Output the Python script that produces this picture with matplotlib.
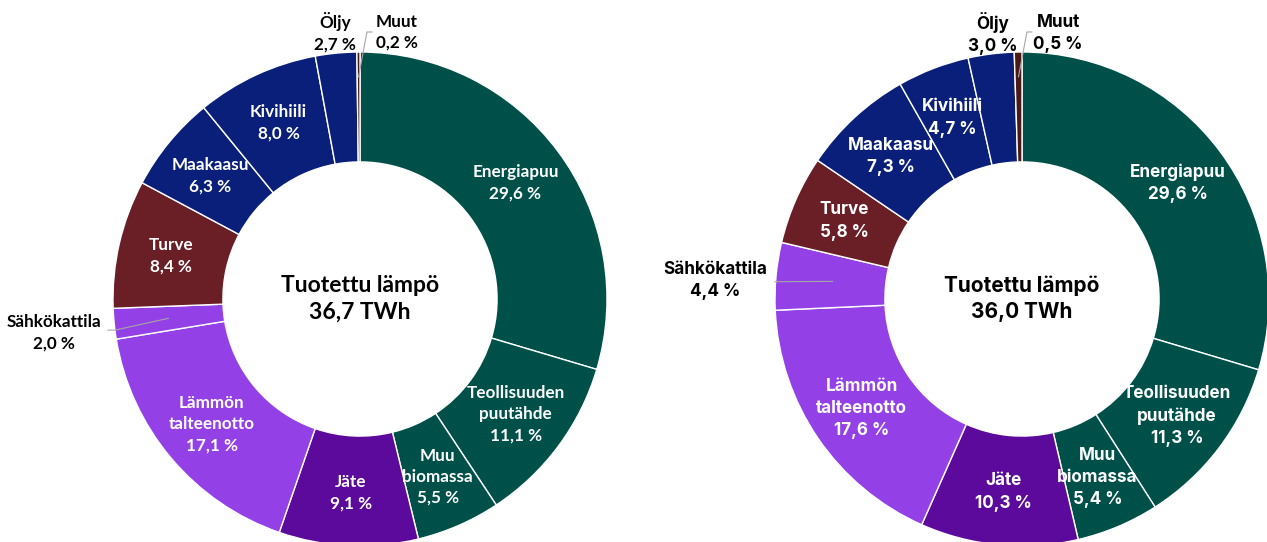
"""
Two donut charts: produced heat by fuel, two years side by side.
"""

import numpy as np
import matplotlib.pyplot as plt

labels = ['Energiapuu', 'Teollisuuden\npuutähde', 'Muu\nbiomassa', 'Jäte',
          'Lämmön\ntalteenotto', 'Sähkökattila', 'Turve', 'Maakaasu',
          'Kivihiili', 'Öljy', 'Muut']
share_left = [29.6, 11.1, 5.5, 9.1, 17.1, 2.0, 8.4, 6.3, 8.0, 2.7, 0.2]
share_right = [29.6, 11.3, 5.4, 10.3, 17.6, 4.4, 5.8, 7.3, 4.7, 3.0, 0.5]
total_left = '36,7'
total_right = '36,0'

green = '#00504A'
navy = '#0A1F7A'
lilac = '#9340E6'
colors = [green, green, green, '#5C0A9B', lilac, lilac, '#6A1F27',
          navy, navy, navy, '#4A1A1A']

W, H = 1267, 542
fig = plt.figure(figsize=(W / 100, H / 100), dpi=100)

R = 247       # outer radius, px
r_in = 0.555  # inner radius relative


def donut(cx, cy, vals, total, font, fs_lab, fs_mid, outside):
    ax = fig.add_axes([(cx - R) / W, (H - cy - R) / H, 2 * R / W, 2 * R / H])
    wedges, _ = ax.pie(vals, colors=colors, startangle=90, counterclock=False,
                       radius=1, wedgeprops=dict(width=1 - r_in, edgecolor='white',
                                                 linewidth=1))
    ax.set_xlim(-1, 1)
    ax.set_ylim(-1, 1)
    ax.set_aspect('equal')
    ax.axis('off')
    for w, lab, v in zip(wedges, labels, vals):
        mid = np.deg2rad((w.theta1 + w.theta2) / 2)
        txt = '%s\n%s %%' % (lab, ('%.1f' % v).replace('.', ','))
        if lab in outside:
            tx, ty, r0, lx, ly = outside[lab]
            ax.text(tx, ty, txt, ha='center', va='center', fontsize=fs_lab,
                    fontweight='bold', family=font, color='black',
                    linespacing=1.4, clip_on=False)
            if lx is not None:
                px, py = r0 * np.cos(mid), r0 * np.sin(mid)
                ax.plot([px, lx[0], lx[1]], [py, ly[0], ly[1]], color='#A6A6A6',
                        lw=0.8, clip_on=False)
        else:
            ax.text(0.785 * np.cos(mid), 0.785 * np.sin(mid), txt, ha='center',
                    va='center', fontsize=fs_lab, fontweight='bold', family=font,
                    color='white', linespacing=1.4)
    ax.text(0, 0, 'Tuotettu lämpö\n%s TWh' % total, ha='center', va='center',
            fontsize=fs_mid, fontweight='bold', family=font, linespacing=1.35)


# outside label placement: text x, y, leader start radius, leader bends
out_left = {
    'Öljy': (-0.10, 1.08, None, None, None),
    'Muut': (0.15, 1.08, 0.9, (0.028, 0.049), (1.081, 1.081)),
    'Sähkökattila': (-1.24, -0.138, 0.78, (-0.992, -1.02), (-0.126, -0.126)),
}
out_right = {
    'Öljy': (-0.117, 1.075, None, None, None),
    'Muut': (0.146, 1.075, 0.9, (0.02, 0.04), (1.081, 1.081)),
    'Sähkökattila': (-1.243, 0.075, 0.77, (-0.99, -1.0), (0.07, 0.07)),
}

donut(360, 299, share_left, total_left, 'Lato', 12.3, 16.5, out_left)
donut(1022, 299, share_right, total_right, 'Inter', 12.3, 15, out_right)

fig.savefig('out.png', dpi=100)
